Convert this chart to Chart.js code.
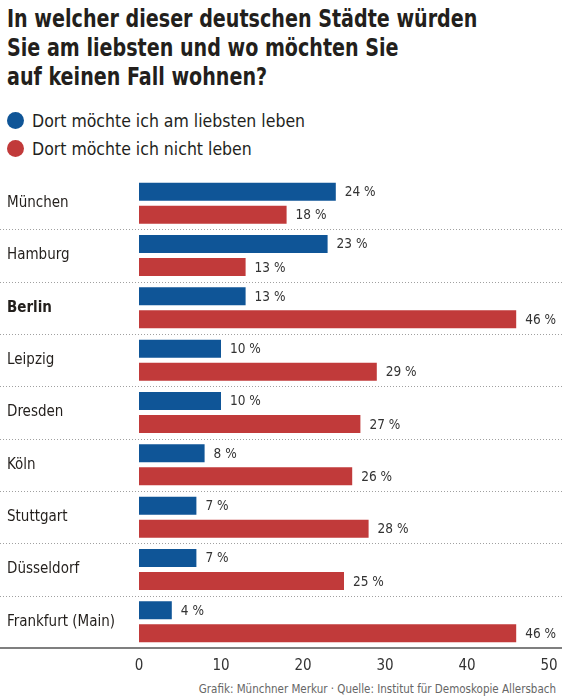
<!DOCTYPE html>
<html lang="de">
<head>
<meta charset="utf-8">
<script src="https://cdn.jsdelivr.net/npm/chart.js@4.4.1/dist/chart.umd.min.js"></script>
<style>
  html, body { margin: 0; padding: 0; background: #fff; }
  body { width: 562px; height: 700px; position: relative; overflow: hidden;
         font-family: "DejaVu Sans Condensed", "Roboto", sans-serif; color: #231f1c; }
  h1 { position: absolute; left: 7px; top: 4px; margin: 0; font-size: 25px; line-height: 29px; font-weight: bold;
       white-space: nowrap; transform: scaleX(0.85); transform-origin: 0 0; }
  .legend { position: absolute; left: 7px; top: 107px; font-size: 17.5px; line-height: 28px; }
  .legend span.dot { display: inline-block; width: 17px; height: 17px; border-radius: 50%; vertical-align: -2px; margin-right: 8px; }
  .chart { position: absolute; left: 0; top: 165px; width: 562px; height: 515px; }
  .footer { position: absolute; right: 6px; top: 682px; font-size: 11.5px; color: #666; }
</style>
</head>
<body>
<h1>In welcher dieser deutschen Städte würden<br>Sie am liebsten und wo möchten Sie<br>auf keinen Fall wohnen?</h1>
<div class="legend" id="legend"></div>
<div class="chart"><canvas id="chart"></canvas></div>
<div class="footer">Grafik: Münchner Merkur · Quelle: Institut für Demoskopie Allersbach</div>
<script>
const cities = ["München", "Hamburg", "Berlin", "Leipzig", "Dresden", "Köln", "Stuttgart", "Düsseldorf", "Frankfurt (Main)"];
const liebsten = [24, 23, 13, 10, 10, 8, 7, 7, 4];
const nicht = [18, 13, 46, 29, 27, 26, 28, 25, 46];
const seriesNames = ["Dort möchte ich am liebsten leben", "Dort möchte ich nicht leben"];
const seriesColors = ["#0f5597", "#c13a3a"];
const xTicks = [0, 10, 20, 30, 40, 50];

const fontFamily = "'DejaVu Sans Condensed', Roboto, sans-serif";

document.getElementById("legend").innerHTML = seriesNames
  .map((n, i) => `<div><span class="dot" style="background:${seriesColors[i]}"></span>${n}</div>`)
  .join("");

// dotted separators between cities and solid base line
const separators = {
  id: "separators",
  beforeDatasetsDraw(chart) {
    const { ctx, chartArea, scales: { y } } = chart;
    ctx.save();
    ctx.strokeStyle = "#a0a0a0";
    ctx.lineWidth = 1;
    ctx.setLineDash([1, 2]);
    for (let i = 0; i < cities.length - 1; i++) {
      const yy = Math.round((y.getPixelForValue(i) + y.getPixelForValue(i + 1)) / 2) + 0.5;
      ctx.beginPath();
      ctx.moveTo(0, yy);
      ctx.lineTo(chart.width, yy);
      ctx.stroke();
    }
    ctx.setLineDash([]);
    ctx.strokeStyle = "#555";
    ctx.lineWidth = 1.5;
    ctx.beginPath();
    ctx.moveTo(0, chartArea.bottom);
    ctx.lineTo(chart.width, chartArea.bottom);
    ctx.stroke();
    ctx.restore();
  }
};

const valueLabels = {
  id: "valueLabels",
  afterDatasetsDraw(chart) {
    const { ctx } = chart;
    ctx.save();
    ctx.font = "13.5px " + fontFamily;
    ctx.fillStyle = "#333";
    ctx.textBaseline = "middle";
    chart.data.datasets.forEach((ds, di) => {
      chart.getDatasetMeta(di).data.forEach((bar, i) => {
        ctx.fillText(ds.data[i] + " %", bar.x + 9, bar.y + 1);
      });
    });
    ctx.restore();
  }
};

new Chart(document.getElementById("chart"), {
  type: "bar",
  data: {
    labels: cities,
    datasets: [
      { label: seriesNames[0], data: liebsten, backgroundColor: seriesColors[0] },
      { label: seriesNames[1], data: nicht, backgroundColor: seriesColors[1] }
    ]
  },
  options: {
    indexAxis: "y",
    responsive: true,
    maintainAspectRatio: false,
    animation: false,
    categoryPercentage: 0.88,
    barPercentage: 0.78,
    layout: { padding: { top: 11.6, right: 13, left: 7, bottom: 0 } },
    plugins: { legend: { display: false }, tooltip: { enabled: false } },
    scales: {
      x: {
        min: 0,
        max: 50,
        afterFit: s => { s.height = 32; },
        afterBuildTicks: s => { s.ticks = xTicks.map(v => ({ value: v })); },
        grid: { display: false },
        border: { display: false },
        ticks: { padding: 1, color: "#333", font: { family: fontFamily, size: 15 } }
      },
      y: {
        afterFit: s => { s.width = 132; },
        grid: { display: false },
        border: { display: false },
        ticks: {
          crossAlign: "far",
          color: "#231f1c",
          font: ctx => ({ family: fontFamily, size: 15, weight: cities[ctx.index] === "Berlin" ? "bold" : "normal" })
        }
      }
    }
  },
  plugins: [separators, valueLabels]
});
</script>
</body>
</html>
